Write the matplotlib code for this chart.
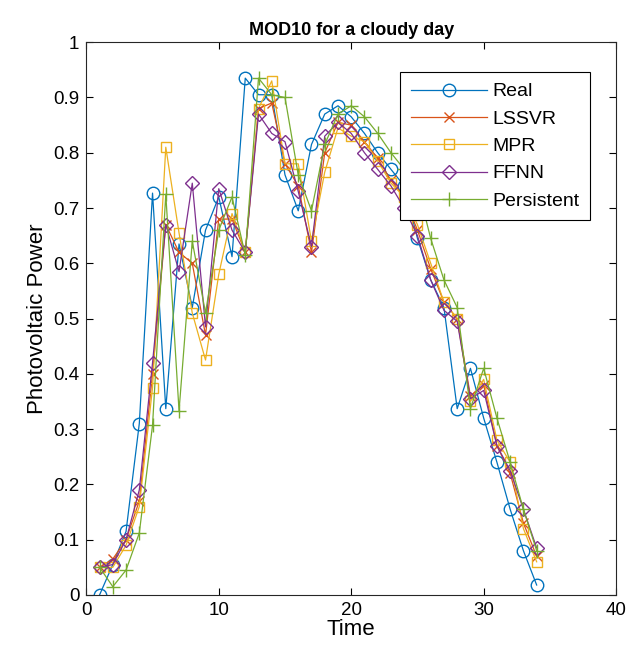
import matplotlib
matplotlib.use('Agg')
import matplotlib.pyplot as plt
import numpy as np

plt.rcParams['font.family'] = ['Liberation Sans', 'DejaVu Sans']

# time steps
time = np.arange(1, 35)

# series
real = [0.0, 0.055, 0.115, 0.31, 0.727, 0.337, 0.635, 0.52, 0.66, 0.72,
        0.612, 0.935, 0.905, 0.905, 0.76, 0.695, 0.815, 0.87, 0.885, 0.865,
        0.835, 0.80, 0.77, 0.74, 0.645, 0.57, 0.52, 0.337, 0.41, 0.32,
        0.24, 0.155, 0.08, 0.018]
lssvr = [0.05, 0.065, 0.10, 0.17, 0.40, 0.67, 0.62, 0.60, 0.47, 0.68,
         0.68, 0.62, 0.88, 0.89, 0.78, 0.74, 0.62, 0.80, 0.855, 0.85,
         0.82, 0.79, 0.75, 0.72, 0.66, 0.59, 0.53, 0.50, 0.36, 0.38,
         0.27, 0.22, 0.13, 0.07]
mpr = [0.05, 0.05, 0.09, 0.16, 0.375, 0.81, 0.655, 0.51, 0.425, 0.58,
       0.69, 0.62, 0.88, 0.93, 0.78, 0.78, 0.64, 0.765, 0.845, 0.83,
       0.82, 0.785, 0.745, 0.72, 0.67, 0.60, 0.53, 0.50, 0.35, 0.39,
       0.28, 0.24, 0.12, 0.06]
ffnn = [0.05, 0.055, 0.10, 0.19, 0.42, 0.67, 0.585, 0.745, 0.485, 0.735,
        0.66, 0.62, 0.87, 0.835, 0.82, 0.73, 0.63, 0.83, 0.855, 0.835,
        0.80, 0.77, 0.74, 0.70, 0.65, 0.57, 0.515, 0.495, 0.355, 0.37,
        0.27, 0.225, 0.155, 0.085]
persistent = [0.05, 0.015, 0.045, 0.112, 0.307, 0.725, 0.333, 0.64, 0.51, 0.66,
              0.72, 0.615, 0.935, 0.905, 0.90, 0.76, 0.695, 0.815, 0.87, 0.885,
              0.865, 0.835, 0.80, 0.77, 0.74, 0.645, 0.57, 0.52, 0.337, 0.41,
              0.32, 0.24, 0.155, 0.08]

fig = plt.figure(figsize=(6.3, 6.7), dpi=100)
ax = fig.add_axes([0.137, 0.112, 0.841, 0.825])

ax.plot(time, real, '-o', color='#0072BD', mfc='none', ms=9, lw=0.9, label='Real')
ax.plot(time, lssvr, '-x', color='#D95319', mfc='none', ms=7, lw=0.9, label='LSSVR')
ax.plot(time, mpr, '-s', color='#EDB120', mfc='none', ms=7.5, lw=0.9, label='MPR')
ax.plot(time, ffnn, '-D', color='#7E2F8E', mfc='none', ms=7, lw=0.9, label='FFNN')
ax.plot(time, persistent, '-+', color='#77AC30', mfc='none', ms=10, lw=0.9, label='Persistent')

ax.set_xlim(0, 40)
ax.set_ylim(0, 1)
ax.set_xticks([0, 10, 20, 30, 40])
ax.set_yticks(np.arange(0, 1.01, 0.1))
ax.set_yticklabels(['0', '0.1', '0.2', '0.3', '0.4', '0.5', '0.6', '0.7', '0.8', '0.9', '1'])
ax.tick_params(direction='in', top=True, right=True, labelsize=13.5, length=5, pad=5)
for s in ax.spines.values():
    s.set_color('#262626')
    s.set_linewidth(0.8)

ax.set_title('MOD10 for a cloudy day', fontsize=13, fontweight='bold', pad=5)
ax.set_xlabel('Time', fontsize=16, labelpad=0)
ax.set_ylabel('Photovoltaic Power', fontsize=16, labelpad=4)

leg = ax.legend(loc='upper right', bbox_to_anchor=(0.951, 0.946), fontsize=14,
                handlelength=3.9, fancybox=False, framealpha=1, edgecolor='black',
                borderpad=0.55, labelspacing=0.5, handletextpad=0.3,
                borderaxespad=0)
leg.get_frame().set_linewidth(0.8)

fig.savefig('out.png', dpi=100)
